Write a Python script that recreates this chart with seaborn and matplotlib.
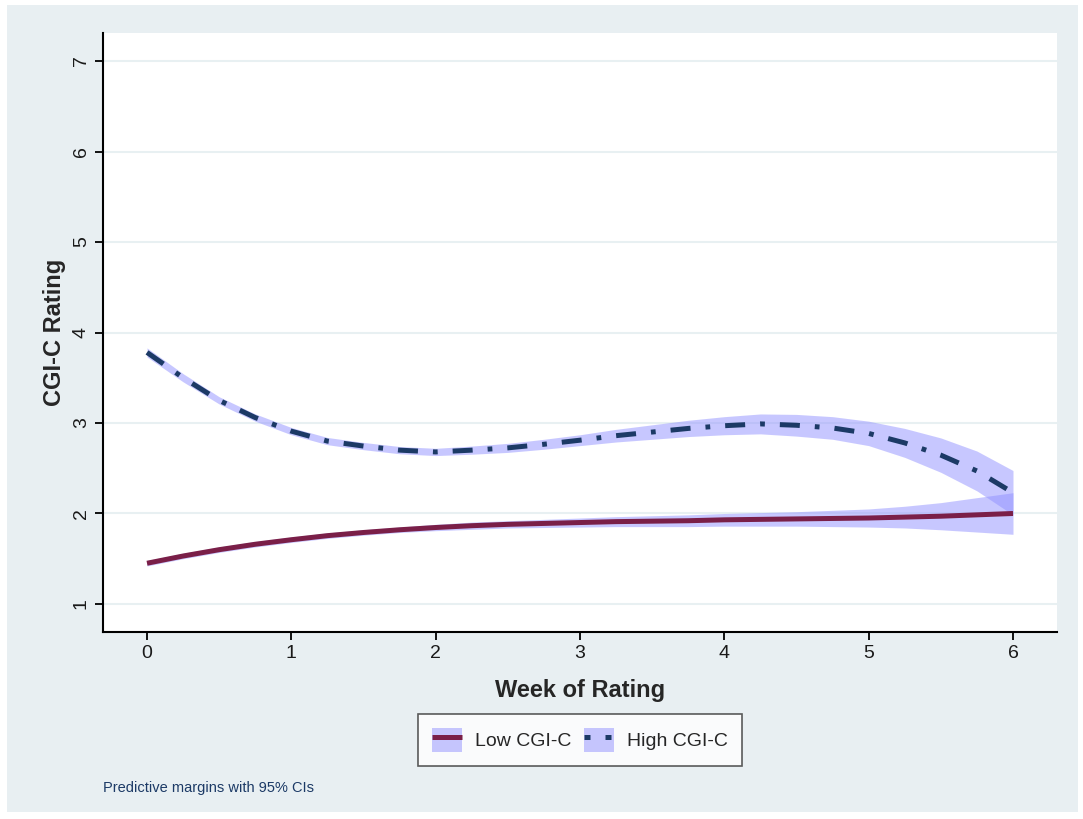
import matplotlib.pyplot as plt
import pandas as pd
import seaborn as sns
from matplotlib.patches import Patch, Rectangle
from matplotlib.lines import Line2D

# values, quarter-week steps
weeks = [0, 0.25, 0.5, 0.75, 1, 1.25, 1.5, 1.75, 2, 2.25, 2.5, 2.75, 3,
         3.25, 3.5, 3.75, 4, 4.25, 4.5, 4.75, 5, 5.25, 5.5, 5.75, 6]
low_mean = [1.45, 1.53, 1.60, 1.66, 1.71, 1.755, 1.79, 1.82, 1.845, 1.865, 1.88, 1.89, 1.90,
            1.91, 1.915, 1.92, 1.93, 1.935, 1.94, 1.945, 1.95, 1.96, 1.97, 1.985, 2.00]
low_half = [0.03, 0.03, 0.03, 0.03, 0.03, 0.03, 0.03, 0.03, 0.035, 0.04, 0.04, 0.045, 0.05,
            0.055, 0.06, 0.065, 0.07, 0.075, 0.08, 0.09, 0.10, 0.12, 0.15, 0.19, 0.23]
high_mean = [3.78, 3.50, 3.25, 3.06, 2.91, 2.80, 2.745, 2.70, 2.68, 2.70, 2.725, 2.765, 2.81,
             2.86, 2.90, 2.94, 2.97, 2.99, 2.975, 2.945, 2.885, 2.78, 2.645, 2.47, 2.23]
high_half = [0.05, 0.045, 0.04, 0.04, 0.04, 0.04, 0.04, 0.04, 0.04, 0.045, 0.05, 0.055, 0.06,
             0.07, 0.08, 0.09, 0.10, 0.11, 0.12, 0.125, 0.135, 0.16, 0.19, 0.22, 0.245]

groups = ["Low CGI-C", "High CGI-C"]
line_colors = {"Low CGI-C": "#7a1f48", "High CGI-C": "#1c3a66"}
band_color = "#9191ff"

df = pd.concat([
    pd.DataFrame({"week": weeks, "rating": low_mean, "half": low_half, "group": groups[0]}),
    pd.DataFrame({"week": weeks, "rating": high_mean, "half": high_half, "group": groups[1]}),
])

sns.set_style("white")
plt.rcParams["font.family"] = ["Liberation Sans", "DejaVu Sans"]

fig = plt.figure(figsize=(10.83, 8.19), dpi=100, facecolor="white")
fig.patches.append(Rectangle((7 / 1083, 1 - 812 / 819), 1071 / 1083, 807 / 819,
                             transform=fig.transFigure, facecolor="#e8eff2",
                             edgecolor="none", zorder=-10))
ax = fig.add_axes([0.0951, 0.2283, 0.8809, 0.7314])
ax.set_facecolor("white")

for g in groups:
    sub = df[df["group"] == g]
    ax.fill_between(sub["week"], sub["rating"] - sub["half"], sub["rating"] + sub["half"],
                    color=band_color, alpha=0.5, linewidth=0, zorder=2)

sns.lineplot(data=df, x="week", y="rating", hue="group", style="group",
             palette=line_colors, dashes={"Low CGI-C": "", "High CGI-C": (4.0, 3.0, 0.95, 3.0)},
             linewidth=3.6, legend=False, ax=ax, zorder=3)
for ln in ax.lines:
    ln.set_dash_capstyle("butt")
    ln.set_solid_capstyle("butt")

ax.set_xlim(-0.305, 6.305)
ax.set_ylim(0.69, 7.31)
ax.set_xticks(range(0, 7))
ax.set_yticks(range(1, 8))
ax.yaxis.grid(True, color="#e8f0f2", linewidth=1.5)
ax.xaxis.grid(False)
ax.set_axisbelow(True)
for s in ["top", "right"]:
    ax.spines[s].set_visible(False)
for s in ["left", "bottom"]:
    ax.spines[s].set_color("black")
    ax.spines[s].set_linewidth(1.5)
ax.tick_params(axis="both", direction="out", length=6, width=1.3, color="black",
               labelsize=14, labelcolor="#1a1a1a", left=True, bottom=True)
plt.setp(ax.get_yticklabels(), rotation=90, va="center")

ax.set_xlabel("Week of Rating", fontsize=17, fontweight="bold", labelpad=12)
ax.set_ylabel("CGI-C Rating", fontsize=17, fontweight="bold", labelpad=5)

handles = []
for g in groups:
    dash = "-" if g == "Low CGI-C" else (0, (1.2, 3.0))
    handles.append((Patch(facecolor=band_color, alpha=0.5, edgecolor="none"),
                    Line2D([], [], color=line_colors[g], linewidth=3.6, linestyle=dash,
                           solid_capstyle="butt", dash_capstyle="butt")))
leg = fig.legend(handles, groups, loc="center", bbox_to_anchor=(0.5355, 0.0965), ncol=2,
                 frameon=True, fancybox=False, edgecolor="#333333", fontsize=14,
                 handlelength=1.55, handleheight=1.55, columnspacing=0.67, handletextpad=0.67,
                 borderpad=0.7, borderaxespad=0)
leg.get_frame().set_linewidth(1.2)

fig.text(103 / 1083, 1 - 788 / 819, "Predictive margins with 95% CIs", fontsize=10.5,
         color="#1c3a66", va="center", ha="left")

fig.savefig("out.png", dpi=100, facecolor=fig.get_facecolor())
